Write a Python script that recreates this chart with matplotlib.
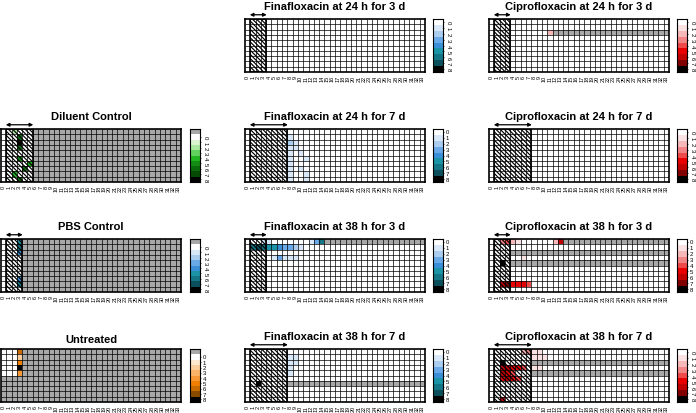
import numpy as np
import matplotlib
matplotlib.use('Agg')
import matplotlib.pyplot as plt
from matplotlib.colors import ListedColormap, BoundaryNorm
from matplotlib.patches import Rectangle

plt.rcParams['font.family'] = ['Liberation Sans', 'DejaVu Sans']
plt.rcParams['hatch.linewidth'] = 0.85

days = list(range(34))
n_mice = 10
score_ticks = list(range(9))
grey = '#a8a8a8'

# colour ramps for scores 0..8
blue_ramp = ['#ffffff', '#d9e8f8', '#abcdf0', '#6aa9e8', '#3a8fd6', '#1a94a6', '#137585', '#0b4f5c', '#000000']
red_ramp = ['#ffffff', '#fbe2e2', '#f6b8b8', '#f28585', '#ee4a4a', '#e80000', '#c00000', '#800000', '#000000']
green_ramp = ['#ffffff', '#d9f5d2', '#a9e9a0', '#62d25e', '#22b522', '#128c12', '#0a6b0a', '#054a05', '#000000']
orange_ramp = ['#ffffff', '#fde7cf', '#fbcd9b', '#f9b368', '#f79836', '#f07f00', '#c86a00', '#8a4a00', '#000000']

# (mouse row, day, score) for every non-zero cell; dead = first grey day per row
diluent_scores = [(0, 2, 2), (1, 3, 6), (2, 3, 8), (3, 3, 6), (5, 3, 5), (6, 5, 4), (7, 4, 6), (8, 2, 4), (9, 3, 6)]
diluent_dead = {r: 6 for r in range(10)}
pbs_scores = [(0, 3, 5), (1, 3, 6), (2, 3, 4), (7, 3, 4), (8, 3, 6)]
pbs_dead = {r: 4 for r in range(10)}
untreated_scores = [(0, 3, 6), (1, 3, 2), (2, 3, 5), (3, 3, 8), (4, 3, 4)]
untreated_dead = {0: 4, 1: 4, 2: 4, 3: 4, 4: 4, 5: 0, 6: 0, 7: 0, 8: 0, 9: 0}

fina24_3_scores = []
fina24_3_dead = {}
cipro24_3_scores = [(2, 11, 2)]
cipro24_3_dead = {2: 12}

fina24_7_scores = [(1, 8, 1), (2, 8, 2), (3, 8, 1), (4, 8, 1), (5, 8, 1), (6, 8, 1), (7, 8, 1), (8, 8, 1), (9, 8, 1),
                   (2, 9, 1), (3, 9, 1), (4, 10, 1), (5, 11, 1), (7, 10, 1), (8, 11, 1), (9, 11, 1)]
fina24_7_dead = {}
cipro24_7_scores = []
cipro24_7_dead = {}

fina38_3_scores = [(0, 3, 1), (0, 4, 1), (0, 12, 1), (0, 13, 3), (0, 14, 6),
                   (1, 1, 6), (1, 2, 7), (1, 3, 6), (1, 4, 5), (1, 5, 5), (1, 6, 4), (1, 7, 3), (1, 8, 3), (1, 9, 2), (1, 10, 1),
                   (3, 5, 1), (3, 6, 3), (3, 7, 1), (3, 8, 1), (3, 9, 1)]
fina38_3_dead = {0: 15}
cipro38_3_scores = [(0, 2, 3), (0, 3, 4), (0, 4, 2), (0, 5, 1), (0, 12, 2), (0, 13, 6),
                    (3, 6, 1), (4, 2, 8),
                    (8, 2, 6), (8, 3, 7), (8, 4, 5), (8, 5, 5), (8, 6, 5), (8, 7, 4)]
cipro38_3_dead = {0: 14, 2: 4, 4: 4}

fina38_7_scores = [(1, 8, 1), (2, 8, 1), (3, 8, 1), (4, 8, 1), (1, 9, 1), (2, 9, 1), (6, 2, 8)]
fina38_7_dead = {6: 8}
cipro38_7_scores = [(0, 6, 2), (0, 7, 3), (0, 8, 1), (0, 9, 1), (1, 8, 1), (1, 9, 1), (1, 10, 1),
                    (2, 2, 8), (3, 2, 6), (3, 3, 6), (3, 4, 5), (3, 5, 5), (3, 6, 4), (3, 8, 1), (3, 9, 1),
                    (4, 2, 6), (4, 3, 5), (4, 4, 4), (5, 2, 5), (5, 3, 6), (5, 4, 5), (5, 5, 4), (9, 2, 6)]
cipro38_7_dead = {2: 8, 4: 8}

# title, scores, dead, ramp, dosing window (first day, day after last), grey key on colorbar, rotated labels
panels = {
    (1, 0): ('Diluent Control', diluent_scores, diluent_dead, green_ramp, (1, 6), True, True),
    (2, 0): ('PBS Control', pbs_scores, pbs_dead, blue_ramp, (1, 4), True, True),
    (3, 0): ('Untreated', untreated_scores, untreated_dead, orange_ramp, None, True, False),
    (0, 1): ('Finafloxacin at 24 h for 3 d', fina24_3_scores, fina24_3_dead, blue_ramp, (1, 4), False, True),
    (0, 2): ('Ciprofloxacin at 24 h for 3 d', cipro24_3_scores, cipro24_3_dead, red_ramp, (1, 4), False, True),
    (1, 1): ('Finafloxacin at 24 h for 7 d', fina24_7_scores, fina24_7_dead, blue_ramp, (1, 8), False, False),
    (1, 2): ('Ciprofloxacin at 24 h for 7 d', cipro24_7_scores, cipro24_7_dead, red_ramp, (1, 8), False, True),
    (2, 1): ('Finafloxacin at 38 h for 3 d', fina38_3_scores, fina38_3_dead, blue_ramp, (1, 4), False, False),
    (2, 2): ('Ciprofloxacin at 38 h for 3 d', cipro38_3_scores, cipro38_3_dead, red_ramp, (1, 4), False, False),
    (3, 1): ('Finafloxacin at 38 h for 7 d', fina38_7_scores, fina38_7_dead, blue_ramp, (1, 8), False, False),
    (3, 2): ('Ciprofloxacin at 38 h for 7 d', cipro38_7_scores, cipro38_7_dead, red_ramp, (1, 8), False, True),
}

W, H = 696, 414
fig = plt.figure(figsize=(W / 100, H / 100), dpi=100)

col_left = [1, 245, 489]
key_left = [190, 433, 677]
row_top = [20, 130, 240, 350]
map_w, map_h = 180, 53


def px_axes(x, y, w, h):
    return fig.add_axes([x / W, 1 - (y + h) / H, w / W, h / H])


for (r, c), (title, scores, dead, ramp, dose, grey_key, rot) in panels.items():
    grid = np.zeros((n_mice, len(days)))
    for m, start in dead.items():
        grid[m, start:] = np.nan
    for m, d, v in scores:
        grid[m, d] = v

    cmap = ListedColormap(ramp)
    cmap.set_bad(grey)
    norm = BoundaryNorm(np.arange(-0.5, 9.5), cmap.N)

    ax = px_axes(col_left[c], row_top[r], map_w, map_h)
    ax.set_facecolor(grey)
    ax.pcolormesh(np.arange(len(days) + 1), np.arange(n_mice + 1),
                  np.ma.masked_invalid(grid), cmap=cmap, norm=norm)
    ax.vlines(np.arange(1, len(days)), 0, n_mice, color='k', lw=0.5)
    ax.hlines(np.arange(1, n_mice), 0, len(days), color='k', lw=0.5)
    ax.set_xlim(0, len(days))
    ax.set_ylim(n_mice, 0)
    for s in ax.spines.values():
        s.set_linewidth(1.2)

    if dose:
        d0, d1 = dose
        ax.add_patch(Rectangle((d0, 0), d1 - d0, n_mice, fill=False, hatch='\\' * 8,
                               edgecolor='k', lw=1.2))
        ax.annotate('', xy=(d1 + 0.1, -0.8), xytext=(d0 - 0.1, -0.8),
                    arrowprops=dict(arrowstyle='<|-|>', lw=0.9, color='k',
                                    mutation_scale=5, shrinkA=0, shrinkB=0),
                    annotation_clip=False)

    ax.set_xticks(np.arange(len(days)) + 0.5)
    ax.set_xticklabels([str(d) for d in days], rotation=90, fontsize=4)
    ax.tick_params(axis='x', length=0, pad=2)
    ax.set_yticks([])
    ax.set_title(title, fontsize=8, fontweight='bold', pad=7 if dose else 5)

    # discrete colour key
    key_colors = ([grey] if grey_key else []) + ramp
    kmap = ListedColormap(key_colors)
    cax = px_axes(key_left[c], row_top[r], 10, map_h)
    cax.pcolormesh([0, 1], np.arange(len(key_colors) + 1),
                   np.arange(len(key_colors)).reshape(-1, 1), cmap=kmap,
                   norm=BoundaryNorm(np.arange(-0.5, len(key_colors)), kmap.N))
    cax.set_ylim(len(key_colors), 0)
    cax.set_xticks([])
    off = 1 if grey_key else 0
    cax.yaxis.tick_right()
    cax.set_yticks(np.array(score_ticks) + off + 0.5)
    cax.set_yticklabels([str(s) for s in score_ticks], fontsize=4.3,
                        rotation=-90 if rot else 0, va='center')
    cax.tick_params(axis='y', length=1, width=0.5, pad=0.8)
    for s in cax.spines.values():
        s.set_linewidth(0.8)

fig.savefig('out.png', dpi=100)
